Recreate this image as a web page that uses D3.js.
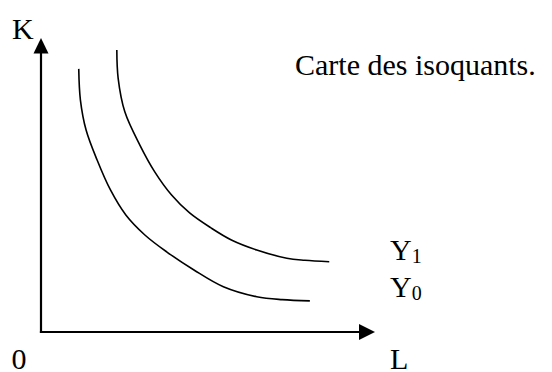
<!DOCTYPE html>
<html>
<head>
<meta charset="utf-8">
<script src="https://cdn.jsdelivr.net/npm/d3@7"></script>
</head>
<body style="margin:0">
<div id="chart"></div>
<script>
// ---- data (arbitrary units) ----
const isoY0L = [1.13, 1.18, 1.35, 1.68, 2.08, 2.54, 3.11, 3.77, 4.58, 5.46, 6.46, 7.22, 8.05];
const isoY0K = [8.95, 7.89, 6.87, 5.85, 4.83, 3.98, 3.30, 2.72, 2.11, 1.54, 1.20, 1.10, 1.06];
const isoY1L = [2.27, 2.31, 2.51, 2.96, 3.41, 3.91, 4.45, 5.09, 5.70, 6.46, 7.36, 7.90, 8.63];
const isoY1K = [9.59, 8.63, 7.49, 6.36, 5.44, 4.66, 4.05, 3.54, 3.13, 2.79, 2.51, 2.44, 2.39];
const curveLabels = ["Y", "Y"];
const curveSubs = ["1", "0"];
const axisLabels = { x: "L", y: "K", origin: "0" };
const title = "Carte des isoquants.";

const W = 552, H = 372;
const svg = d3.select("#chart").append("svg")
  .attr("width", W).attr("height", H)
  .style("display", "block");

const x = d3.scaleLinear().domain([0, 10]).range([41, 375]);
const y = d3.scaleLinear().domain([0, 10]).range([332, 38]);

// labels: 24px serif text scaled 1.25x (visual 30px)
const K = 1.25;
function txt(tx, ty, s) {
  const t = svg.append("text").attr("x", 0).attr("y", 0)
    .attr("transform", `translate(${tx},${ty}) scale(${K})`)
    .attr("font-size", 24)
    .style("font-family", "'Liberation Serif'").text(s);
  t.node().getComputedTextLength();
  return t;
}
txt(12, 39, axisLabels.y);
txt(11.5, 369, axisLabels.origin);
txt(390, 369, axisLabels.x);
txt(295, 75, title);

const labBase = [260, 297];
curveLabels.forEach((lab, i) => {
  const t = svg.append("text").attr("x", 0).attr("y", 0)
    .attr("transform", `translate(390,${labBase[i]}) scale(${K})`)
    .attr("font-size", 24)
    .style("font-family", "'Liberation Serif'");
  t.append("tspan").text(lab);
  t.append("tspan").attr("font-size", 16).attr("dy", 2.4).text(curveSubs[i]);
  t.node().getComputedTextLength();
});

// axes with arrowheads
const axisW = 2.2;
svg.append("line").attr("x1", x(0)).attr("y1", y(0) + axisW / 2)
  .attr("x2", x(0)).attr("y2", y(10) + 14)
  .attr("stroke", "#000").attr("stroke-width", axisW);
svg.append("line").attr("x1", x(0) - axisW / 2).attr("y1", y(0))
  .attr("x2", x(10) - 15).attr("y2", y(0))
  .attr("stroke", "#000").attr("stroke-width", axisW);
svg.append("path")
  .attr("d", `M${x(0)},${y(10)} L${x(0) - 7.5},${y(10) + 15.5} L${x(0) + 7.5},${y(10) + 15.5} Z`)
  .attr("fill", "#000");
svg.append("path")
  .attr("d", `M${x(10)},${y(0)} L${x(10) - 16},${y(0) - 8} L${x(10) - 16},${y(0) + 8} Z`)
  .attr("fill", "#000");

// isoquants
const line = d3.line().x(d => x(d[0])).y(d => y(d[1])).curve(d3.curveCatmullRom.alpha(0.5));
[d3.zip(isoY0L, isoY0K), d3.zip(isoY1L, isoY1K)].forEach(s => {
  svg.append("path").attr("d", line(s))
    .attr("fill", "none").attr("stroke", "#000").attr("stroke-width", 1.6);
});
</script>
</body>
</html>
